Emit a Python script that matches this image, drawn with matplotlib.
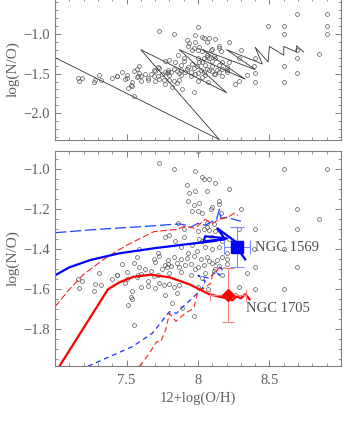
import matplotlib.pyplot as plt
from matplotlib.ticker import MultipleLocator

plt.rcParams["font.family"] = ["Liberation Serif", "DejaVu Serif"]

# observed HII galaxies: 12+log(O/H), log(N/O)
obs_x = [7.73, 7.83, 7.98, 8.03, 8.04, 8.08, 8.12, 7.92, 8.22, 7.94, 7.98, 8.06, 8.60, 8.90,
         8.69, 8.90, 8.49, 8.60, 8.90, 8.00,
         7.93, 7.97, 8.01, 8.15, 8.15, 8.10, 7.96, 8.00, 8.03, 8.09, 8.16, 8.30, 8.69, 8.85,
         7.86, 7.90, 8.06, 8.11, 8.06, 8.08, 8.29, 8.40, 8.69,
         7.77, 7.80, 7.90, 8.00, 8.04, 8.12, 8.10, 8.01, 7.96, 7.99, 8.05, 8.10, 8.15, 7.72,
         7.59, 8.39, 8.60, 8.17, 8.20, 8.22, 8.03, 7.88, 7.84,
         7.57, 7.69, 7.73, 7.79, 7.83, 7.88, 7.92, 7.97, 8.02, 8.06, 8.13, 8.17, 8.20,
         7.77, 7.785, 7.79, 7.81, 7.85, 7.87, 7.91, 7.95, 8.00, 8.04, 8.10, 8.15, 8.20,
         7.59, 8.40, 8.69,
         7.31, 7.43, 7.50, 7.60, 7.67, 7.72, 7.80, 7.88, 7.95, 8.05, 8.11, 8.34,
         7.16, 7.185, 7.50, 7.58, 7.65, 7.69, 7.73, 7.76, 7.80, 7.83, 7.87, 7.57, 7.435,
         7.17, 7.28, 7.32, 7.49, 7.60, 7.65, 7.70, 8.29, 8.40, 8.60,
         7.27, 7.54, 7.53, 7.54, 7.51, 7.55, 7.77, 7.85, 7.82, 7.89, 7.97, 8.26, 8.07, 8.00,
         7.93, 8.08, 8.12, 7.98, 8.03, 8.17, 7.75, 7.70, 7.63, 7.55, 7.47, 7.40]
obs_y = [-0.97, -1.00, -1.01, -1.04, -1.05, -1.05, -1.07, -1.08, -1.10, -1.12, -1.11, -1.11, -1.00, -1.00,
         -0.75, -0.75, -0.90, -0.90, -0.90, -0.91,
         -1.16, -1.18, -1.17, -1.16, -1.175, -1.19, -1.21, -1.21, -1.22, -1.20, -1.22, -1.20, -1.20, -1.25,
         -1.27, -1.30, -1.27, -1.275, -1.29, -1.305, -1.30, -1.30, -1.30,
         -1.34, -1.33, -1.34, -1.31, -1.30, -1.31, -1.34, -1.35, -1.38, -1.41, -1.39, -1.40, -1.39, -1.42,
         -1.40, -1.40, -1.40, -1.36, -1.42, -1.35, -1.36, -1.39, -1.36,
         -1.44, -1.45, -1.435, -1.455, -1.44, -1.45, -1.445, -1.435, -1.45, -1.44, -1.455, -1.44, -1.45,
         -1.48, -1.49, -1.475, -1.485, -1.47, -1.49, -1.48, -1.475, -1.49, -1.48, -1.47, -1.485, -1.475,
         -1.49, -1.49, -1.49,
         -1.52, -1.53, -1.515, -1.525, -1.51, -1.53, -1.52, -1.515, -1.53, -1.52, -1.51, -1.52,
         -1.55, -1.56, -1.55, -1.53, -1.56, -1.535, -1.57, -1.58, -1.575, -1.59, -1.58, -1.54, -1.53,
         -1.595, -1.575, -1.58, -1.57, -1.59, -1.585, -1.595, -1.59, -1.60, -1.60,
         -1.61, -1.61, -1.64, -1.65, -1.68, -1.78, -1.63, -1.62, -1.67, -1.695, -1.735, -1.63, -1.60, -1.59,
         -1.42, -1.46, -1.50, -1.50, -1.545, -1.53, -1.50, -1.465, -1.50, -1.47, -1.475, -1.55]

# top panel: single zig-zag track
zig_x = [7.00, 8.15, 7.60, 8.20, 7.87, 8.33, 8.03, 8.40, 8.20, 8.45, 8.40, 8.49, 8.50, 8.60,
         8.60, 8.69, 8.69, 8.74]
zig_y = [-1.30, -2.33, -1.20, -1.74, -1.20, -1.57, -1.20, -1.45, -1.20, -1.38, -1.17, -1.355,
         -1.16, -1.27, -1.16, -1.23, -1.15, -1.23]

# bottom panel: model tracks
blue_sol_x = [7.00, 7.10, 7.25, 7.45, 7.69, 7.94, 8.10, 8.20, 8.05, 8.04, 8.19, 8.135, 8.26, 8.30, 8.33]
blue_sol_y = [-1.53, -1.49, -1.453, -1.42, -1.395, -1.373, -1.36, -1.345, -1.335, -1.36, -1.35,
              -1.295, -1.36, -1.42, -1.45]
blue_ld_x = [7.00, 7.30, 7.60, 7.87, 7.92, 7.95, 8.00, 8.05, 8.10, 8.13, 8.15, 8.16, 8.20, 8.25, 8.30]
blue_ld_y = [-1.317, -1.30, -1.287, -1.273, -1.28, -1.29, -1.27, -1.28, -1.26, -1.25, -1.20, -1.245,
             -1.24, -1.25, -1.26]
blue_sd_x = [7.23, 7.38, 7.54, 7.68, 7.80, 7.85, 7.89, 7.96, 8.03, 8.05, 8.00, 8.08, 8.12, 8.15, 8.17, 8.12]
blue_sd_y = [-1.985, -1.937, -1.887, -1.82, -1.712, -1.72, -1.69, -1.645, -1.595, -1.56, -1.53,
             -1.545, -1.51, -1.53, -1.50, -1.47]
red_sol_x = [7.03, 7.37, 7.45, 7.55, 7.67, 7.80, 7.94, 8.08, 8.20, 8.24, 8.27, 8.30, 8.33, 8.35, 8.36]
red_sol_y = [-1.985, -1.60, -1.565, -1.537, -1.527, -1.54, -1.575, -1.625, -1.645, -1.655, -1.635,
             -1.645, -1.625, -1.64, -1.65]
red_ld_x = [7.00, 7.10, 7.20, 7.35, 7.50, 7.69, 7.86, 7.90, 7.98, 8.05, 8.10, 8.15, 8.21, 8.25, 8.28]
red_ld_y = [-1.687, -1.60, -1.525, -1.445, -1.38, -1.312, -1.30, -1.285, -1.295, -1.25, -1.27, -1.25,
            -1.24, -1.22, -1.23]
red_sd_x = [7.59, 7.66, 7.71, 7.74, 7.775, 7.80, 7.845, 7.91, 7.97, 8.00, 8.03, 8.09, 8.10, 8.146, 8.20]
red_sd_y = [-1.985, -1.92, -1.862, -1.862, -1.80, -1.72, -1.76, -1.72, -1.695, -1.61, -1.60, -1.57,
            -1.53, -1.495, -1.495]

# the two galaxies
ngc_names = ["NGC 1569", "NGC 1705"]
ngc_x = [8.273, 8.21]
ngc_y = [-1.39, -1.628]
ngc_xerr = [0.093, 0.125]
ngc_yerr = [0.10, 0.135]

axcol = "#808080"
txtcol = "#606060"

fig = plt.figure(figsize=(3.6, 4.25), dpi=100)
ax1 = fig.add_axes([0.153, 0.6706, 0.794, 0.3344])
ax2 = fig.add_axes([0.153, 0.1388, 0.794, 0.5059])

for ax in (ax1, ax2):
    ax.plot(obs_x, obs_y, "o", ms=2.8, mfc="none", mec="#585858", mew=0.5, ls="none")
    ax.set_xlim(7.0, 9.0)
    ax.xaxis.set_major_locator(MultipleLocator(0.5))
    ax.xaxis.set_minor_locator(MultipleLocator(0.1))
    ax.tick_params(which="both", direction="in", top=True, right=True, color=axcol,
                   labelcolor=txtcol, labelsize=10.5)
    ax.tick_params(which="major", length=4.5, width=0.7)
    ax.tick_params(which="minor", length=2.5, width=0.6)
    for s in ax.spines.values():
        s.set_color(axcol)
        s.set_linewidth(0.8)
    ax.set_ylabel("log(N/O)", fontsize=11, color=txtcol)
    ax.yaxis.set_label_coords(-0.125, 0.5)

# top panel
ax1.plot(zig_x, zig_y, color="#333333", lw=0.6)
ax1.set_ylim(-2.334, -0.55)
ax1.yaxis.set_minor_locator(MultipleLocator(0.1))
ax1.set_yticks([-1.0, -1.5, -2.0])
ax1.set_yticklabels(["\u22121.0", "\u22121.5", "\u22122.0"])
ax1.tick_params(labelbottom=False)

# bottom panel
ax2.plot(blue_ld_x, blue_ld_y, color="#2040ff", lw=0.9, dashes=(9, 3))
ax2.plot(red_ld_x, red_ld_y, color="#ff2020", lw=0.8, dashes=(6, 2.5))
ax2.plot(blue_sd_x, blue_sd_y, color="#2030ff", lw=0.9, dashes=(4, 3))
ax2.plot(red_sd_x, red_sd_y, color="#ff2020", lw=0.8, dashes=(5, 3))
ax2.plot(blue_sol_x, blue_sol_y, color="blue", lw=1.6)
ax2.plot(red_sol_x, red_sol_y, color="red", lw=1.6)

ax2.errorbar(ngc_x[0], ngc_y[0], xerr=ngc_xerr[0], yerr=ngc_yerr[0], fmt="s", ms=8,
             color="blue", ecolor="#7d8cff", elinewidth=0.8, capsize=5, capthick=0.8)
ax2.errorbar(ngc_x[1], ngc_y[1], xerr=ngc_xerr[1], yerr=ngc_yerr[1], fmt="D", ms=6.5,
             color="red", ecolor="#ff8080", elinewidth=0.8, capsize=4, capthick=0.8)
ax2.text(8.40, ngc_y[0], ngc_names[0], fontsize=10.5, color="#505050", ha="left", va="center")
ax2.text(8.335, -1.697, ngc_names[1], fontsize=10.5, color="#505050", ha="left", va="center")

ax2.set_ylim(-1.9835, -0.9085)
ax2.yaxis.set_minor_locator(MultipleLocator(0.05))
ax2.set_yticks([-1.0, -1.2, -1.4, -1.6, -1.8])
ax2.set_yticklabels(["\u22121.0", "\u22121.2", "\u22121.4", "\u22121.6", "\u22121.8"])
ax2.set_xticks([7.5, 8.0, 8.5])
ax2.set_xticklabels(["7.5", "8", "8.5"])
ax2.tick_params(axis="x", pad=6)
ax2.set_xlabel("12+log(O/H)", fontsize=10.5, color=txtcol)
ax2.xaxis.set_label_coords(0.5, -0.12)

fig.savefig("out.png", dpi=100)
